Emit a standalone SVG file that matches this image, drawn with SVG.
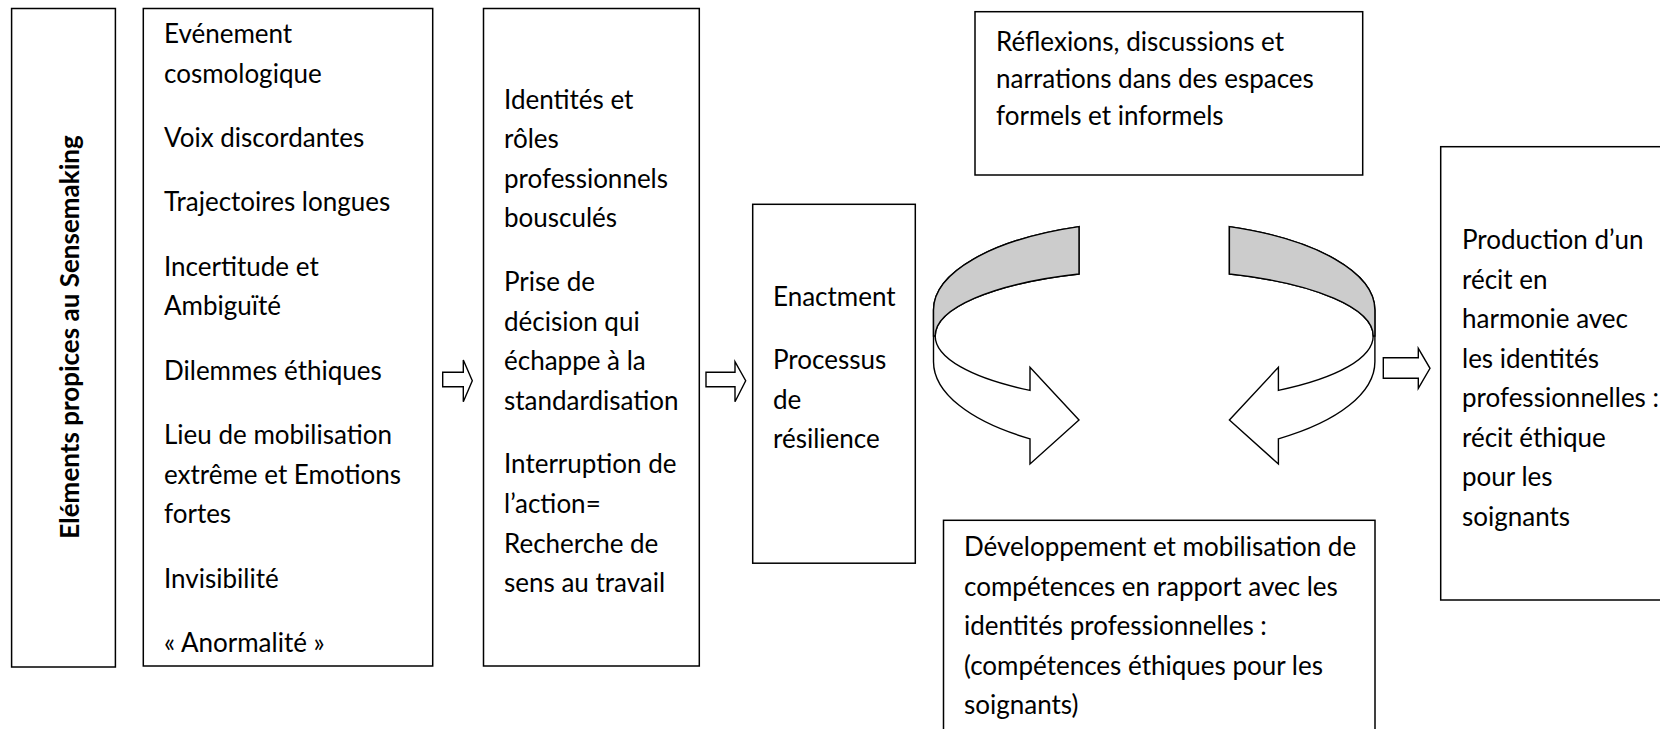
<svg xmlns="http://www.w3.org/2000/svg" width="1660" height="729" viewBox="0 0 1660 729">
<style>
  .box { fill: #ffffff; stroke: #000000; stroke-width: 1.5; }
  .t { font-family: Lato, "Liberation Sans", sans-serif; font-size: 26px; fill: #000000; }
  .tb { font-family: Lato, "Liberation Sans", sans-serif; font-size: 26px; font-weight: bold; fill: #000000; }
  .arr { fill: #ffffff; stroke: #000000; stroke-width: 1.4; stroke-linejoin: miter; }
  .band { fill: #cccccc; stroke: #000000; stroke-width: 1.4; }
</style>
<defs>
  <path id="circ-outline" d="M1079,226.6 A220.7,88.7 0 0 0 933.5,310 L933.5,361.7 A220.7,93.3 0 0 0 1030,438.8 L1030,464 L1079,420 L1030,367.3 L1030,390.4 A219,66 0 0 1 935.2,336 A219,66 0 0 1 1079,274 Z"/>
  <path id="circ-band" d="M1079,226.6 A220.7,88.7 0 0 0 933.5,310 L933.5,336 L935.2,336 A219,66 0 0 1 1079,274 Z"/>
</defs>
<rect width="1660" height="729" fill="#ffffff"/>

<g id="node-sensemaking">
  <rect class="box" x="11.6" y="8.5" width="103.8" height="658.5"/>
  <text class="tb" transform="translate(79,337) rotate(-90)" text-anchor="middle">Eléments propices au Sensemaking</text>
</g>

<g id="node-elements">
  <rect class="box" x="143.3" y="8.5" width="289.4" height="657.5"/>
  <text class="t" x="164">
    <tspan x="164" y="43">Evénement</tspan>
    <tspan x="164" y="82.6">cosmologique</tspan>
    <tspan x="164" y="147">Voix discordantes</tspan>
    <tspan x="164" y="211.4">Trajectoires longues</tspan>
    <tspan x="164" y="275.8">Incertitude et</tspan>
    <tspan x="164" y="315.4">Ambiguïté</tspan>
    <tspan x="164" y="379.8">Dilemmes éthiques</tspan>
    <tspan x="164" y="444.2">Lieu de mobilisation</tspan>
    <tspan x="164" y="483.8">extrême et Emotions</tspan>
    <tspan x="164" y="523.4">fortes</tspan>
    <tspan x="164" y="587.8">Invisibilité</tspan>
    <tspan x="164" y="652.2">« Anormalité »</tspan>
  </text>
</g>

<g id="node-identites">
  <rect class="box" x="483.5" y="8.5" width="215.8" height="657.5"/>
  <text class="t">
    <tspan x="504" y="108.6">Identités et</tspan>
    <tspan x="504" y="148.2">rôles</tspan>
    <tspan x="504" y="187.8">professionnels</tspan>
    <tspan x="504" y="227.4">bousculés</tspan>
    <tspan x="504" y="291">Prise de</tspan>
    <tspan x="504" y="330.6">décision qui</tspan>
    <tspan x="504" y="370.2">échappe à la</tspan>
    <tspan x="504" y="409.8">standardisation</tspan>
    <tspan x="504" y="473.4">Interruption de</tspan>
    <tspan x="504" y="513">l’action=</tspan>
    <tspan x="504" y="552.6">Recherche de</tspan>
    <tspan x="504" y="592.2">sens au travail</tspan>
  </text>
</g>

<g id="node-enactment">
  <rect class="box" x="752.7" y="204.3" width="162.6" height="358.9"/>
  <text class="t">
    <tspan x="773" y="305.5">Enactment</tspan>
    <tspan x="773" y="369">Processus</tspan>
    <tspan x="773" y="408.6">de</tspan>
    <tspan x="773" y="448.2">résilience</tspan>
  </text>
</g>

<g id="node-reflexions">
  <rect class="box" x="975" y="11.7" width="387.7" height="163.3"/>
  <text class="t">
    <tspan x="996" y="51.4">Réflexions, discussions et</tspan>
    <tspan x="996" y="88.4">narrations dans des espaces</tspan>
    <tspan x="996" y="125.4">formels et informels</tspan>
  </text>
</g>

<g id="node-developpement">
  <rect class="box" x="943.5" y="520.3" width="431.5" height="220"/>
  <text class="t">
    <tspan x="964" y="556">Développement et mobilisation de</tspan>
    <tspan x="964" y="595.5">compétences en rapport avec les</tspan>
    <tspan x="964" y="635">identités professionnelles :</tspan>
    <tspan x="964" y="674.5">(compétences éthiques pour les</tspan>
    <tspan x="964" y="714">soignants)</tspan>
  </text>
</g>

<g id="node-production">
  <rect class="box" x="1440.7" y="146.7" width="240" height="453.3"/>
  <text class="t">
    <tspan x="1462" y="249">Production d’un</tspan>
    <tspan x="1462" y="288.5">récit en</tspan>
    <tspan x="1462" y="328">harmonie avec</tspan>
    <tspan x="1462" y="367.5">les identités</tspan>
    <tspan x="1462" y="407">professionnelles :</tspan>
    <tspan x="1462" y="446.5">récit éthique</tspan>
    <tspan x="1462" y="486">pour les</tspan>
    <tspan x="1462" y="525.5">soignants</tspan>
  </text>
</g>

<g id="connectors">
  <path class="arr" d="M442.7,372.3 L463.3,372.3 L463.3,360 L472.3,380.7 L463.3,401.7 L463.3,386.7 L442.7,386.7 Z"/>
  <path class="arr" d="M706,372.3 L735,372.3 L735,361.7 L745.7,380.7 L735,401.7 L735,386.7 L706,386.7 Z"/>
  <path class="arr" d="M1383.3,357.7 L1418.3,357.7 L1418.3,348.3 L1430,368.3 L1418.3,388.3 L1418.3,378.3 L1383.3,378.3 Z"/>
  <g id="cycle-left">
    <use href="#circ-outline" class="arr"/>
    <use href="#circ-band" class="band"/>
  </g>
  <g id="cycle-right" transform="matrix(-1,0,0,1,2308.4,0)">
    <use href="#circ-outline" class="arr"/>
    <use href="#circ-band" class="band"/>
  </g>
</g>
</svg>
